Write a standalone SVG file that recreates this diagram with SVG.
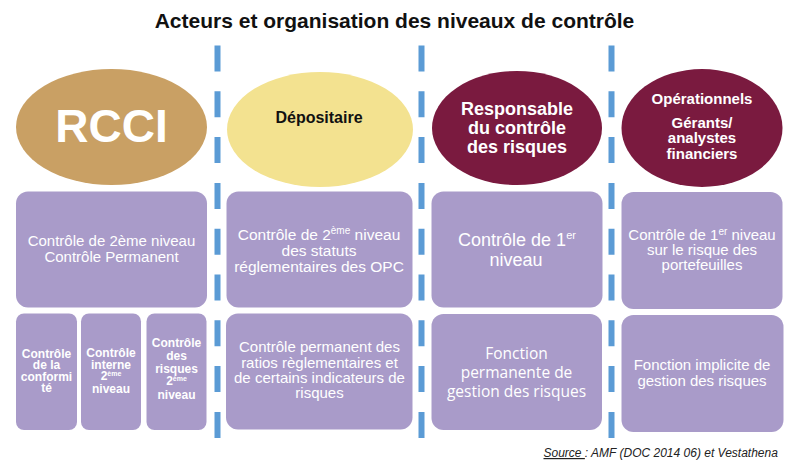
<svg xmlns="http://www.w3.org/2000/svg" width="797" height="467" viewBox="0 0 797 467">
<style>
.t{font-family:"Liberation Sans",Arial,sans-serif;}
.title{font-size:21px;font-weight:bold;fill:#111;}
.box{fill:#A99BC9;}
.wt{fill:#fff;text-anchor:middle;}
.wb{fill:#fff;font-weight:bold;text-anchor:middle;}
.sep{stroke:#5B9BD5;stroke-width:6;stroke-dasharray:26 19.8;fill:none;}
</style>
<rect width="797" height="467" fill="#fff"/>
<text class="t title" x="394.5" y="28" text-anchor="middle">Acteurs et organisation des niveaux de contrôle</text>

<g id="separators">
<line class="sep" x1="217.5" y1="45.5" x2="217.5" y2="438"/>
<line class="sep" x1="421.5" y1="45.5" x2="421.5" y2="438"/>
<line class="sep" x1="611.5" y1="45.5" x2="611.5" y2="438"/>
</g>

<g id="rcci">
<ellipse cx="111.5" cy="127" rx="95.5" ry="58" fill="#C9A064"/>
<text class="t wb" x="111.5" y="142" font-size="46">RCCI</text>
</g>
<g id="depositaire">
<ellipse cx="320" cy="129.5" rx="93" ry="57.5" fill="#F3E290"/>
<text class="t" x="319" y="123" font-size="16" font-weight="bold" text-anchor="middle" fill="#111">Dépositaire</text>
</g>
<g id="responsable">
<ellipse cx="517" cy="128" rx="85" ry="57" fill="#7A1A3F"/>
<text class="t wb" font-size="18"><tspan x="517" y="115">Responsable</tspan><tspan x="517" y="134">du contrôle</tspan><tspan x="517" y="153">des risques</tspan></text>
</g>
<g id="operationnels">
<ellipse cx="702" cy="128" rx="80.5" ry="59" fill="#7A1A3F"/>
<text class="t wb" font-size="15"><tspan x="702" y="104">Opérationnels</tspan><tspan x="702" y="127.5">Gérants/</tspan><tspan x="702" y="143">analystes</tspan><tspan x="702" y="158.5">financiers</tspan></text>
</g>

<g id="rcci-niveau">
<rect class="box" x="16" y="191.5" width="191" height="116" rx="12"/>
<text class="t wt" font-size="15"><tspan x="111.5" y="246">Contrôle de 2ème niveau</tspan><tspan x="111.5" y="262">Contrôle Permanent</tspan></text>
</g>
<g id="dep-niveau">
<rect class="box" x="226.5" y="191.5" width="186" height="116" rx="12"/>
<text class="t wt" font-size="15.5"><tspan x="319" y="239.5">Contrôle de 2<tspan font-size="10" dy="-6">ème</tspan><tspan dy="6"> niveau</tspan></tspan><tspan x="319" y="255.5">des statuts</tspan><tspan x="319" y="271.5">réglementaires des OPC</tspan></text>
</g>
<g id="resp-niveau">
<rect class="box" x="431.5" y="191.5" width="171" height="116" rx="12"/>
<text class="t wt" font-size="18"><tspan x="517" y="246">Contrôle de 1<tspan font-size="11" dy="-7">er</tspan></tspan><tspan x="516" y="265.5">niveau</tspan></text>
</g>
<g id="oper-niveau">
<rect class="box" x="621.5" y="192" width="161" height="117" rx="12"/>
<text class="t wt" font-size="15"><tspan x="702" y="240">Contrôle de 1<tspan font-size="10" dy="-5">er</tspan><tspan dy="5"> niveau</tspan></tspan><tspan x="702" y="255">sur le risque des</tspan><tspan x="702" y="270">portefeuilles</tspan></text>
</g>

<g id="conformite">
<rect class="box" x="16" y="313.5" width="61" height="116.5" rx="8"/>
<text class="t wb" font-size="12"><tspan x="46.5" y="357.5">Contrôle</tspan><tspan x="46.5" y="369">de la</tspan><tspan x="46.5" y="380.5">conformi</tspan><tspan x="46.5" y="392">té</tspan></text>
</g>
<g id="controle-interne">
<rect class="box" x="81" y="313.5" width="60" height="116.5" rx="8"/>
<text class="t wb" font-size="12"><tspan x="111" y="356.5">Contrôle</tspan><tspan x="111" y="368.5">interne</tspan><tspan x="111" y="379.5">2<tspan font-size="7" dy="-4">ème</tspan></tspan><tspan x="111" y="392.5">niveau</tspan></text>
</g>
<g id="controle-risques">
<rect class="box" x="146.5" y="313.5" width="60" height="116.5" rx="8"/>
<text class="t wb" font-size="12"><tspan x="176.5" y="347">Contrôle</tspan><tspan x="176.5" y="360">des</tspan><tspan x="176.5" y="373">risques</tspan><tspan x="176.5" y="384.5">2<tspan font-size="7" dy="-4">ème</tspan></tspan><tspan x="176.5" y="399">niveau</tspan></text>
</g>
<g id="dep-ratios">
<rect class="box" x="226" y="313.5" width="186.5" height="116" rx="12"/>
<text class="t wt" font-size="15"><tspan x="319.5" y="352">Contrôle permanent des</tspan><tspan x="319.5" y="367.5">ratios règlementaires et</tspan><tspan x="319.5" y="383">de certains indicateurs de</tspan><tspan x="319.5" y="398">risques</tspan></text>
</g>
<g id="resp-fonction">
<rect class="box" x="431.5" y="314" width="170.5" height="116" rx="12"/>
<text font-family="'Open Sans','Noto Sans',sans-serif" font-size="15.5" fill="#fff" text-anchor="middle"><tspan x="516.5" y="358.5">Fonction</tspan><tspan x="516.5" y="378">permanente de</tspan><tspan x="516.5" y="397">gestion des risques</tspan></text>
</g>
<g id="oper-fonction">
<rect class="box" x="621.5" y="315" width="162" height="117" rx="12"/>
<text class="t wt" font-size="15"><tspan x="702" y="370">Fonction implicite de</tspan><tspan x="702" y="385.5">gestion des risques</tspan></text>
</g>

<text class="t" x="543.5" y="457" font-size="12" font-style="italic" fill="#222"><tspan text-decoration="underline">Source </tspan>: AMF (DOC 2014 06) et Vestathena</text>
</svg>
